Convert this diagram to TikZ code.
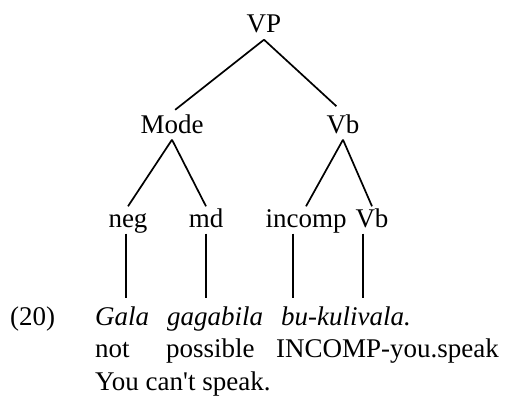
\documentclass[tikz,border=0pt]{standalone}
\usepackage{fontspec}
\setmainfont{Liberation Serif}
\begin{document}
\begin{tikzpicture}[x=1pt,y=-1pt,
  lbl/.style={font=\fontsize{27}{32}\selectfont, anchor=base, inner sep=1.5pt,
              text height=19pt, text depth=5pt},
  txt/.style={font=\fontsize{27}{32}\selectfont, anchor=base west, inner sep=0pt},
  branch/.style={line width=1.7pt},
  stem/.style={line width=2pt}]
\useasboundingbox (0,0) rectangle (511,396);
% tree labels
\node[lbl] (VP)     at (264,33)  {VP};
\node[lbl] (Mode)   at (172,133) {Mode};
\node[lbl] (Vb1)    at (343,133) {Vb};
\node[lbl] (neg)    at (128,227) {neg};
\node[lbl] (md)     at (206,227) {md};
\node[lbl] (incomp) at (306,227) {incomp};
\node[lbl] (Vb2)    at (372,227) {Vb};
% branches
\draw[branch, shorten >=4pt] (VP.south) -- (Mode.north);
\draw[branch, shorten >=9pt] (VP.south) -- (Vb1.north);
\draw[branch] (Mode.south) -- (neg.north);
\draw[branch] (Mode.south) -- (md.north);
\draw[branch] (Vb1.south) -- (incomp.north);
\draw[branch] (Vb1.south) -- (Vb2.north);
% interlinear gloss
\node[txt] (num)   at (10,325)  {(20)};
\node[txt] (w1)    at (95,325)  {\textit{Gala}};
\node[txt] (w2)    at (167,325) {\textit{gagabila}};
\node[txt] (w3)    at (281,325) {\textit{bu-kulivala.}};
\node[txt] (g1)    at (95,357)  {not};
\node[txt] (g2)    at (166,357) {possible};
\node[txt] (g3)    at (276,357) {INCOMP-you.speak};
\node[txt] (trans) at (95,390)  {You can\textquotesingle t speak.};
% stems down to the words
\coordinate (s1) at (126,298);
\coordinate (s2) at (206,298);
\coordinate (s3) at (293,298);
\coordinate (s4) at (363,298);
\draw[stem] (neg.south -| s1) -- (s1);
\draw[stem] (md.south -| s2) -- (s2);
\draw[stem] (incomp.south -| s3) -- (s3);
\draw[stem] (Vb2.south -| s4) -- (s4);
\end{tikzpicture}
\end{document}
